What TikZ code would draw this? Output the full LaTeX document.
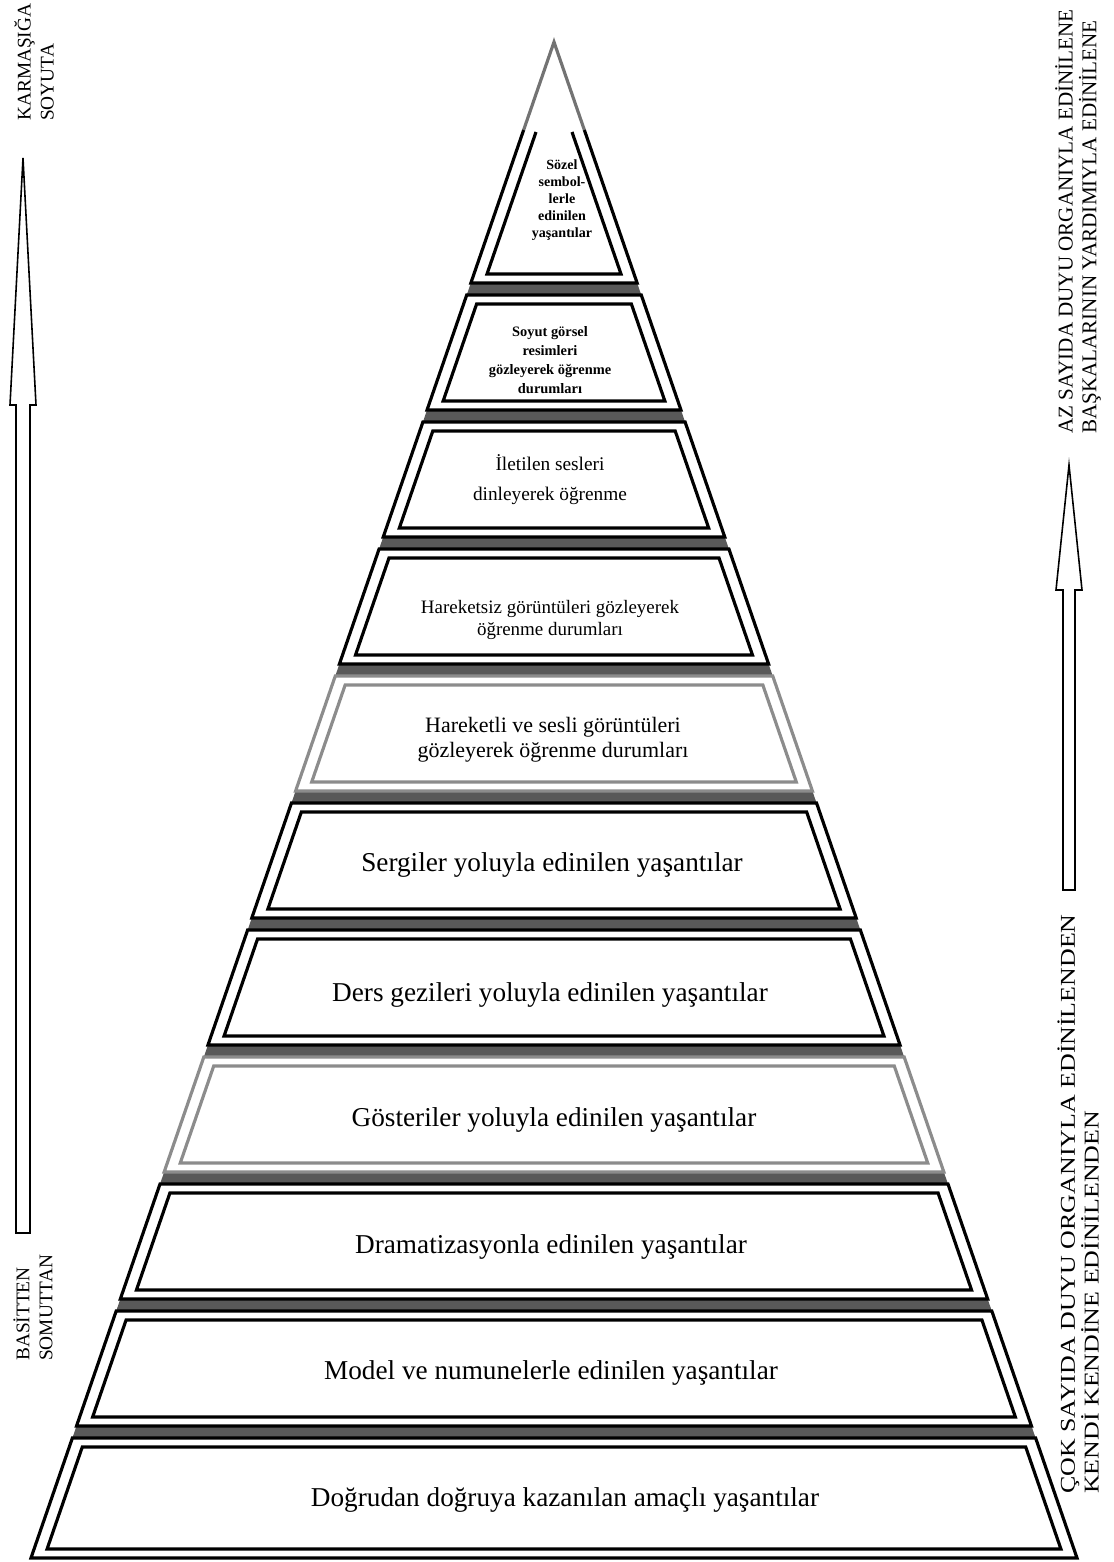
\documentclass[tikz,border=0pt]{standalone}
\usepackage{fontspec}
\setmainfont{Liberation Serif}
\newfontfamily\widefont[FakeStretch=1.23]{Liberation Serif}

\begin{document}
\begin{tikzpicture}[x=0.02cm,y=-0.02cm]
	\tikzstyle{rim} = [line width=1.8pt,line join=miter]
	\tikzstyle{band} = [fill=black!65,draw=none]
	\tikzstyle{lvltext} = [align=center,font=\fontsize{15.5}{18}\selectfont]
	\tikzstyle{sidetext} = [rotate=90,anchor=west,align=left,font=\fontsize{12}{13.5}\selectfont]
	\tikzstyle{hollow} = [draw=black,line width=0.9pt,line join=miter]
	\useasboundingbox (0,0) rectangle (1114,1562);
	% bands between the levels
	\foreach \j in {1,...,10} {
		\pgfmathsetmacro\ya{289+127*(\j-1)-6}
		\pgfmathsetmacro\yb{289+127*(\j-1)+6}
		\pgfmathsetmacro\wa{0.345*(\ya-42)}
		\pgfmathsetmacro\wb{0.345*(\yb-42)}
		\fill[band] (554-\wa,\ya) -- (554+\wa,\ya) -- (554+\wb,\yb) -- (554-\wb,\yb) -- cycle;
	}
	% top level
	\draw[rim,draw=black!55] (554-0.345*88,130) -- (554,42) -- (554+0.345*88,130);
	\draw[rim] (554-0.345*88,130) -- (554-0.345*241,283) -- (554+0.345*241,283) -- (554+0.345*88,130);
	\draw[rim] (536,132) -- (487,274) -- (621,274) -- (572,132);
	% levels 2 to 11
	\foreach \k/\col in {2/black,3/black,4/black,5/black!45,6/black,7/black,8/black!45,9/black,10/black,11/black} {
		\pgfmathsetmacro\yt{295+127*(\k-2)}
		\pgfmathsetmacro\yb{ifthenelse(\k==11,1558,283+127*(\k-1))}
		\pgfmathsetmacro\wt{0.345*(\yt-42)}
		\pgfmathsetmacro\wb{0.345*(\yb-42)}
		\draw[rim,draw=\col] (554-\wt,\yt) -- (554+\wt,\yt) -- (554+\wb,\yb) -- (554-\wb,\yb) -- cycle;
		\pgfmathsetmacro\yit{\yt+9}
		\pgfmathsetmacro\yib{\yb-9}
		\pgfmathsetmacro\vt{0.345*(\yit-42)-13}
		\pgfmathsetmacro\vb{0.345*(\yib-42)-13}
		\draw[rim,draw=\col] (554-\vt,\yit) -- (554+\vt,\yit) -- (554+\vb,\yib) -- (554-\vb,\yib) -- cycle;
	}
	% level texts
	\node[lvltext,font=\bfseries\fontsize{8}{9.6}\selectfont] (lvl1) at (562,200) {Sözel\\sembol-\\lerle\\edinilen\\yaşantılar};
	\node[lvltext,font=\bfseries\fontsize{8.2}{10.8}\selectfont] (lvl2) at (550,360) {Soyut görsel\\resimleri\\gözleyerek öğrenme\\durumları};
	\node[lvltext,font=\fontsize{11}{17}\selectfont] (lvl3) at (550,480) {İletilen sesleri\\dinleyerek öğrenme};
	\node[lvltext,font=\fontsize{10.8}{13}\selectfont] (lvl4) at (550,620) {Hareketsiz görüntüleri gözleyerek\\öğrenme durumları};
	\node[lvltext,font=\fontsize{12.5}{14.5}\selectfont] (lvl5) at (553,740) {Hareketli ve sesli görüntüleri\\gözleyerek öğrenme durumları};
	\node[lvltext] (lvl6) at (552,865) {Sergiler yoluyla edinilen yaşantılar};
	\node[lvltext] (lvl7) at (550,995) {Ders gezileri yoluyla edinilen yaşantılar};
	\node[lvltext] (lvl8) at (554,1120) {Gösteriler yoluyla edinilen yaşantılar};
	\node[lvltext] (lvl9) at (551,1247) {Dramatizasyonla edinilen yaşantılar};
	\node[lvltext] (lvl10) at (551,1373) {Model ve numunelerle edinilen yaşantılar};
	\node[lvltext] (lvl11) at (565,1500) {Doğrudan doğruya kazanılan amaçlı yaşantılar};
	% side arrows
	\draw[hollow] (23,158) -- (36,405) -- (30,405) -- (30,1233) -- (16,1233) -- (16,405) -- (10,405) -- cycle;
	\draw[hollow] (1069,465) -- (1082,590) -- (1075,590) -- (1075,890) -- (1063,890) -- (1063,590) -- (1056,590) -- cycle;
	% side texts
	\node[sidetext,font=\fontsize{11}{13}\selectfont] (upleft) at (34,127) {KARMAŞIĞA\\SOYUTA};
	\node[sidetext,font=\fontsize{11}{13}\selectfont] (downleft) at (33,1367) {BASİTTEN\\SOMUTTAN};
	\node[sidetext] (upright) at (1078,440) {AZ SAYIDA DUYU ORGANIYLA EDİNİLENE\\BAŞKALARININ YARDIMIYLA EDİNİLENE};
	\node[sidetext,font=\widefont\fontsize{12}{13.5}\selectfont] (downright) at (1078,1500) {ÇOK SAYIDA DUYU ORGANIYLA EDİNİLENDEN\\KENDİ KENDİNE EDİNİLENDEN};
\end{tikzpicture}
\end{document}
